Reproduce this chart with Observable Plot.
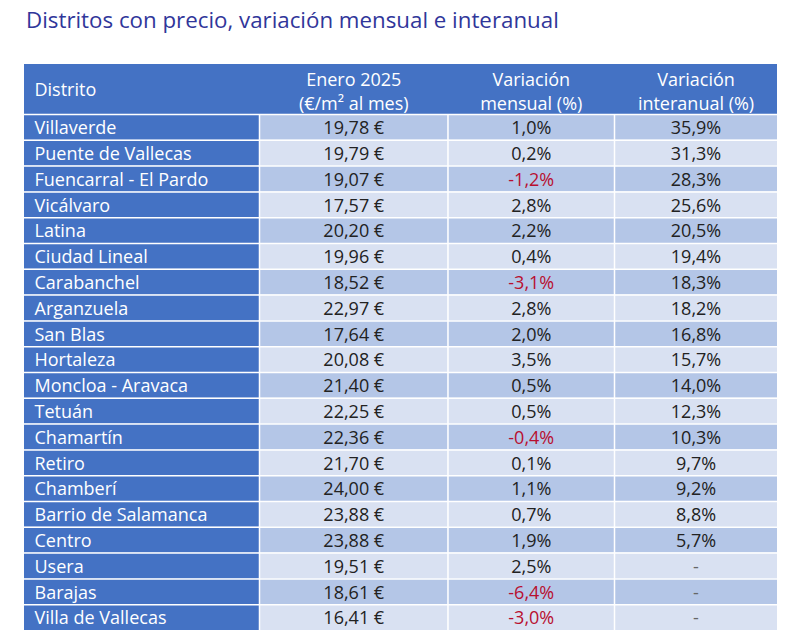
<!DOCTYPE html>
<html><head><meta charset="utf-8">
<script src="https://cdn.jsdelivr.net/npm/d3@7"></script>
<script src="https://cdn.jsdelivr.net/npm/@observablehq/plot@0.6"></script>
<style>
body{margin:0;background:#fff;font-family:"Open Sans",sans-serif;}
#title{height:58px;box-sizing:border-box;padding:5px 0 0 26px;font-size:22.3px;line-height:30px;color:#30369A;white-space:nowrap;}
</style></head><body>
<div id="title">Distritos con precio, variación mensual e interanual</div>
<div id="chart"></div>
<script>
const distritos = ["Villaverde","Puente de Vallecas","Fuencarral - El Pardo","Vicálvaro","Latina","Ciudad Lineal","Carabanchel","Arganzuela","San Blas","Hortaleza","Moncloa - Aravaca","Tetuán","Chamartín","Retiro","Chamberí","Barrio de Salamanca","Centro","Usera","Barajas","Villa de Vallecas"];
const precio = [19.78,19.79,19.07,17.57,20.20,19.96,18.52,22.97,17.64,20.08,21.40,22.25,22.36,21.70,24.00,23.88,23.88,19.51,18.61,16.41];
const mensual = [1.0,0.2,-1.2,2.8,2.2,0.4,-3.1,2.8,2.0,3.5,0.5,0.5,-0.4,0.1,1.1,0.7,1.9,2.5,-6.4,-3.0];
const interanual = [35.9,31.3,28.3,25.6,20.5,19.4,18.3,18.2,16.8,15.7,14.0,12.3,10.3,9.7,9.2,8.8,5.7,null,null,null];
const headers = ["Distrito","Enero 2025\n(€/m² al mes)","Variación\nmensual (%)","Variación\ninteranual (%)"];

// layout
const colEdges = [24, 259, 447.5, 614, 777];
const HDR = 50 / 25.8;
const FS = 18;
const BLUE = "#4472C4";

const loc = d3.formatLocale({decimal: ",", thousands: ".", grouping: [3], currency: ["", ""], minus: "-"});
const f2 = loc.format(".2f"), f1 = loc.format(".1f");

const rows = distritos.map((d, i) => ({i, d}));
const cells = rows.flatMap(r => {
  const i = r.i;
  const vals = [
    {t: f2(precio[i]) + " €", fill: "#222"},
    {t: f1(mensual[i]) + "%", fill: mensual[i] < 0 ? "#B80F30" : "#222"},
    {t: interanual[i] == null ? "-" : f1(interanual[i]) + "%", fill: interanual[i] == null ? "#666" : "#222"}
  ];
  return vals.map((v, k) => ({i, c: k + 1, text: v.t, tfill: v.fill, bg: i % 2 === 0 ? "#B4C6E7" : "#D9E1F2"}));
});
const mid = c => (colEdges[c] + colEdges[c + 1]) / 2;

const chart = Plot.plot({
  width: 787, height: 578,
  marginTop: 0, marginBottom: 0, marginLeft: 0, marginRight: 0,
  x: {type: "linear", domain: [0, 787], range: [0, 787], axis: null},
  y: {type: "linear", domain: [-HDR, 20], range: [6, 572], axis: null},
  style: {fontFamily: "Open Sans", background: "white"},
  marks: [
    Plot.rect([0], {x1: () => colEdges[0], x2: () => colEdges[4], y1: () => -HDR, y2: () => 0, fill: BLUE}),
    Plot.rect(rows, {x1: () => colEdges[0], x2: () => colEdges[1], y1: d => d.i, y2: d => d.i + 1, fill: BLUE}),
    Plot.rect(cells, {x1: d => colEdges[d.c], x2: d => colEdges[d.c + 1], y1: d => d.i, y2: d => d.i + 1, fill: d => d.bg}),
    Plot.ruleY(d3.range(0, 20), {x1: () => colEdges[0], x2: () => colEdges[4], y: d => d, stroke: "white", strokeWidth: 1.5}),
    Plot.ruleX(colEdges.slice(1, 4), {x: d => d, y1: () => 0, y2: () => 20, stroke: "white", strokeWidth: 1.5}),
    Plot.text([headers[0]], {x: () => 34, y: () => -HDR / 2, text: d => d, textAnchor: "start", fill: "white", fontSize: FS, dy: 1}),
    Plot.text(headers.slice(1), {x: (d, i) => mid(i + 1), y: () => -HDR / 2, text: d => d, fill: "white", fontSize: FS, lineHeight: 1.32, dy: 1}),
    Plot.text(rows, {x: () => 34, y: d => d.i + 0.5, text: "d", textAnchor: "start", fill: "white", fontSize: FS, dy: 1}),
    Plot.text(cells, {x: d => mid(d.c), y: d => d.i + 0.5, text: "text", fill: d => d.tfill, fontSize: FS, dy: 1})
  ]
});
document.getElementById("chart").appendChild(chart);
</script>
</body></html>
